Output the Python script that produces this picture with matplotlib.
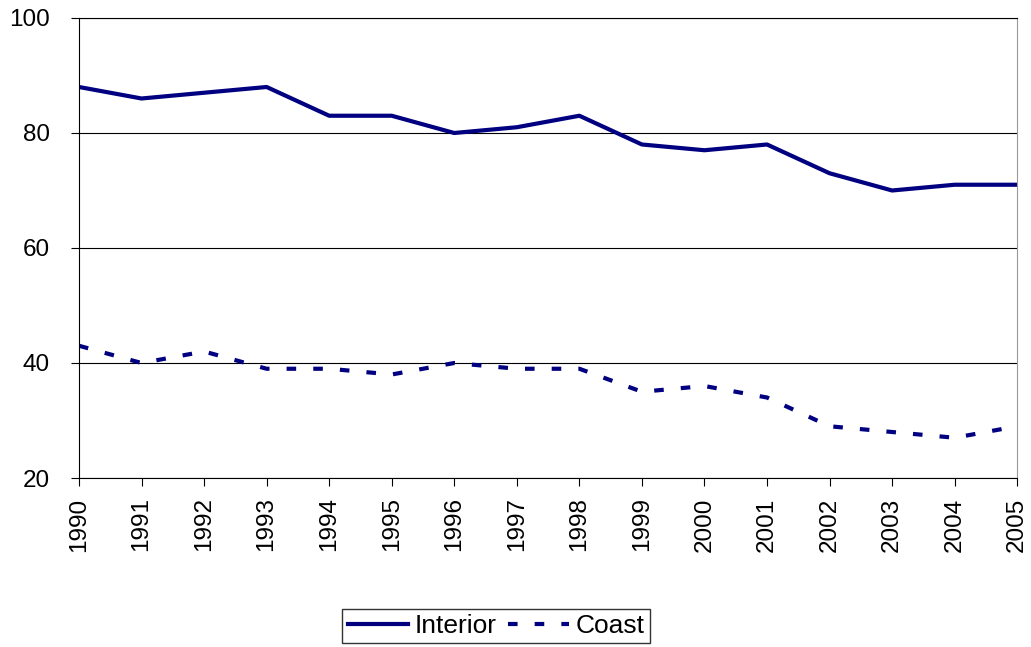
import matplotlib.pyplot as plt

plt.rcParams['font.family'] = ['Liberation Sans', 'DejaVu Sans']

years = list(range(1990, 2006))
interior = [88, 86, 87, 88, 83, 83, 80, 81, 83, 78, 77, 78, 73, 70, 71, 71]
coast = [43, 40, 42, 39, 39, 38, 40, 39, 39, 35, 36, 34, 29, 28, 27, 29]

navy = '#000080'

fig = plt.figure(figsize=(10.31, 6.47), dpi=100)
ax = fig.add_axes([0.0766, 0.2612, 0.91, 0.7110])

ax.plot(years, interior, color=navy, lw=3.0, label='Interior')
ax.plot(years, coast, color=navy, lw=3.0, dashes=(2.3, 4.1), label='Coast')

ax.set_xlim(1990, 2005)
ax.set_ylim(20, 100)
ax.set_yticks([20, 40, 60, 80, 100])
ax.set_xticks(years)
ax.set_xticklabels([str(y) for y in years], rotation=90)
ax.tick_params(labelsize=17.5, direction='out', length=6, color='black')
ax.tick_params(axis='x', pad=8)
ax.tick_params(axis='y', pad=15)
ax.yaxis.grid(True, color='black', lw=0.8)
ax.set_axisbelow(True)
for s in ['top', 'left', 'bottom']:
    ax.spines[s].set_color('black')
ax.spines['right'].set_color('#999999')

leg = fig.legend(loc='center', bbox_to_anchor=(0.481, 0.0325), ncol=2, fontsize=19,
                 frameon=True, fancybox=False, edgecolor='black', handlelength=2.3,
                 handletextpad=0.25, columnspacing=0.42, borderpad=0.2,
                 borderaxespad=0)
leg.get_frame().set_linewidth(1.0)

fig.savefig('out.png', dpi=100)
